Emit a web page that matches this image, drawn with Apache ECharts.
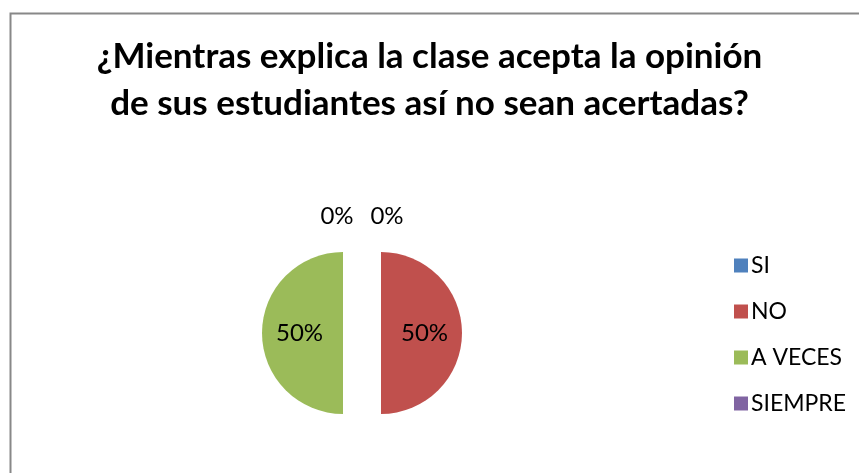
<!DOCTYPE html>
<html>
<head>
<meta charset="utf-8">
<script src="https://cdn.jsdelivr.net/npm/echarts@6/dist/echarts.min.js"></script>
<style>
  html, body { margin: 0; padding: 0; background: #fff; }
  #chart { width: 859px; height: 473px; }
</style>
</head>
<body>
<div id="chart"></div>
<script>
const categories = ['SI', 'NO', 'A VECES', 'SIEMPRE'];
const values = [0, 50, 50, 0];
const colors = ['#4F81BD', '#C0504D', '#9BBB59', '#8064A2'];
const titleText = '¿Mientras explica la clase acepta la opinión\nde sus estudiantes así no sean acertadas?';

const chart = echarts.init(document.getElementById('chart'), null, {renderer: 'canvas'});

// zero slices sit at the top; push their labels above the pie like the original
const labelOffsets = [[25, -73], [5, 0], [-13, 0], [-25, -73]];

const data = categories.map(function (name, i) {
    return {
        name: name,
        value: values[i],
        selected: values[i] > 0,
        itemStyle: {color: colors[i]},
        label: {offset: labelOffsets[i]}
    };
});

const option = {
    animation: false,
    backgroundColor: '#fff',
    title: {
        text: titleText,
        left: 'center',
        top: 28,
        textStyle: {
            fontFamily: 'Lato',
            fontWeight: 'bold',
            fontSize: 35,
            lineHeight: 47,
            color: '#000'
        }
    },
    legend: {
        orient: 'vertical',
        left: 729,
        top: 249,
        itemWidth: 14,
        itemHeight: 14,
        itemGap: 23,
        icon: 'rect',
        selectedMode: false,
        data: categories,
        textStyle: {
            fontFamily: 'Lato',
            fontSize: 23,
            color: '#000',
            padding: [0, 0, 0, -2]
        }
    },
    graphic: [{
        type: 'rect',
        left: 8,
        top: 11,
        shape: {width: 900, height: 500},
        style: {fill: 'none', stroke: '#888', lineWidth: 2},
        silent: true
    }],
    series: [{
        type: 'pie',
        center: [362, 333],
        radius: 81,
        startAngle: 90,
        clockwise: true,
        selectedMode: 'multiple',
        selectedOffset: 19,
        avoidLabelOverlap: false,
        label: {
            show: true,
            position: 'inside',
            formatter: '{d}%',
            fontFamily: 'Lato',
            fontSize: 24,
            color: '#000'
        },
        labelLine: {show: false},
        emphasis: {disabled: true},
        data: data
    }]
};

chart.setOption(option);
</script>
</body>
</html>
